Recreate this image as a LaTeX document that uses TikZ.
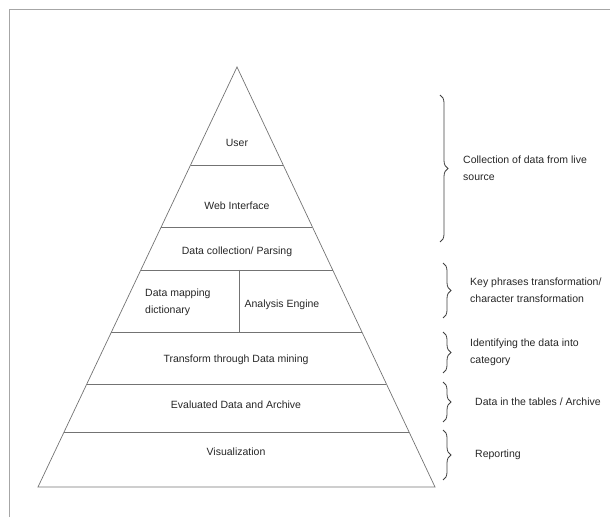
\documentclass[tikz,border=0pt]{standalone}
\usepackage{fontspec}
\setmainfont{Liberation Sans}
\usetikzlibrary{positioning, calc, decorations.pathreplacing}

\begin{document}
\begin{tikzpicture}[
    x=1pt, y=1pt,
    layer/.style={draw=black!55, line width=0.7pt},
    frameline/.style={draw=black!35, line width=1pt},
    txt/.style={font=\fontsize{10.5}{17}\selectfont, text=black!85, inner sep=0pt},
    note/.style={txt, align=left, anchor=west},
    bracket/.style={draw=black!75, line width=0.8pt,
        decorate, decoration={brace, amplitude=8pt}}
]
\useasboundingbox (0,0) rectangle (610,517);

% Frame
\draw[frameline] (9,0) -- (9,507) -- (610,507);

% Pyramid outline
\coordinate (apex) at (237,450);
\coordinate (bl) at (38,30);
\coordinate (br) at (435,30);
\draw[layer] (apex) -- (br) -- (bl) -- cycle;

% Layer separators
\foreach \t [count=\i] in {0.233,0.381,0.483,0.631,0.755,0.869} {
    \coordinate (l\i) at ($(apex)!\t!(bl)$);
    \coordinate (r\i) at ($(apex)!\t!(br)$);
    \draw[layer] (l\i) -- (r\i);
}
\coordinate (dtop) at (239,247);
\coordinate (dbot) at (239,185);
\draw[layer] (dtop) -- (dbot);

% Layer labels
\node[txt] (user) at (237,374) {User};
\node[txt] (web) at (237,311) {Web Interface};
\node[txt] (parse) at (237,265) {Data collection/ Parsing};
\node[txt, align=left, anchor=west] (dict) at (145,215) {Data mapping\\dictionary};
\node[txt] (engine) at (282,212) {Analysis Engine};
\node[txt] (mining) at (236,157) {Transform through Data mining};
\node[txt] (archive) at (236,112) {Evaluated Data and Archive};
\node[txt] (vis) at (236,65) {Visualization};

% Side braces
\coordinate (c1t) at (440,422);
\coordinate (c1b) at (440,275);
\coordinate (c2t) at (443,254);
\coordinate (c2b) at (443,199);
\coordinate (c3t) at (443,185);
\coordinate (c3b) at (443,144);
\coordinate (c4t) at (443,135);
\coordinate (c4b) at (443,95);
\coordinate (c5t) at (443,87);
\coordinate (c5b) at (443,37);
\foreach \i in {1,...,5} {
    \draw[bracket] (c\i t) -- (c\i b);
    \coordinate (c\i) at ($(c\i t)!0.5!(c\i b)$);
}

% Brace notes
\node[note, right=23pt of c1] (live) {Collection of data from live\\source};
\node[note, right=27pt of c2] (phrase) {Key phrases transformation/\\character transformation};
\node[note, right=27pt of c3] (categ) {Identifying the data into\\category};
\node[note, right=32pt of c4] (tables) {Data in the tables / Archive};
\node[note, right=32pt of c5] (report) {Reporting};

\end{tikzpicture}
\end{document}
